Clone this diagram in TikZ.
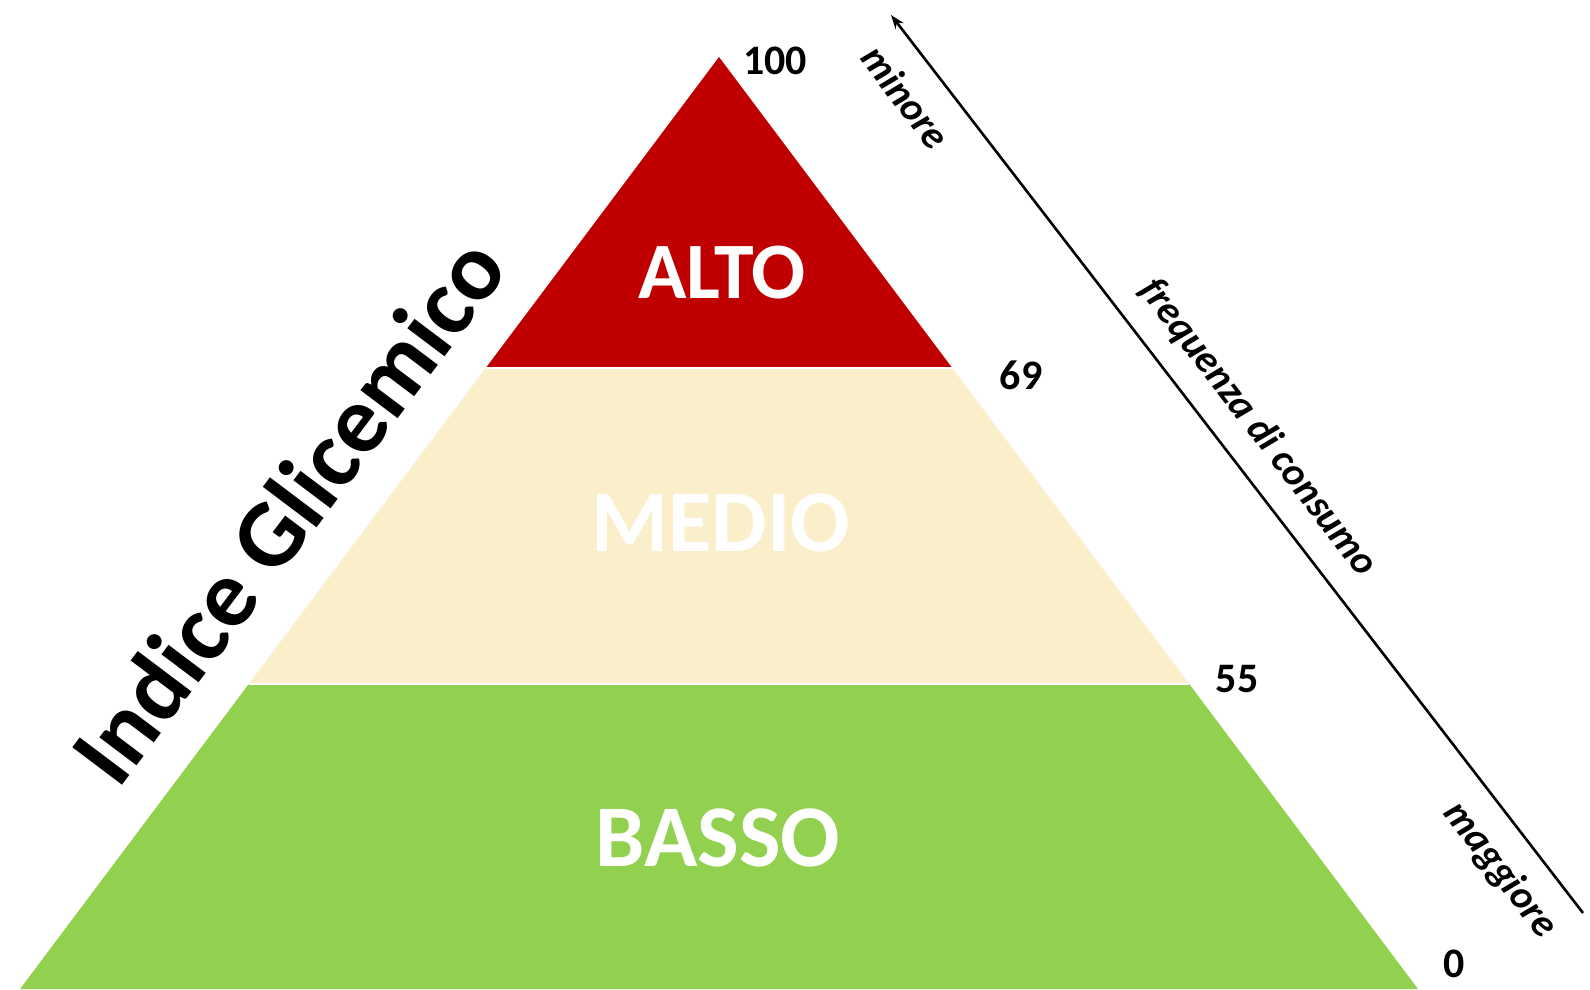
\documentclass[tikz,border=0pt]{standalone}
\usepackage{fontspec}
\setmainfont{Carlito}
\usetikzlibrary{arrows.meta}
\definecolor{altored}{HTML}{C00000}
\definecolor{mediocream}{HTML}{FBEECA}
\definecolor{bassogreen}{HTML}{92D050}
\begin{document}
\begin{tikzpicture}[x=1pt,y=-1pt,
  bandlabel/.style={text=white,font=\bfseries,inner sep=0pt,anchor=center},
  numlabel/.style={font=\fontsize{42}{46}\selectfont\bfseries,inner sep=0pt,anchor=center},
  axislabel/.style={font=\fontsize{40}{44}\selectfont\bfseries\itshape,inner sep=0pt,anchor=center,rotate=-52.4},
  titlelabel/.style={font=\fontsize{96}{100}\selectfont\bfseries,inner sep=0pt,anchor=center,rotate=53},
  separator/.style={white,line width=1.6pt},
]
\fill[white] (0,0) rectangle (1590,989);
\useasboundingbox (0,0) rectangle (1590,989);

% pyramid bands
\fill[altored] (719,57) -- (952.25,368) -- (485.75,368) -- cycle;
\fill[mediocream] (485.75,368) -- (952.25,368) -- (1189.25,684) -- (248.75,684) -- cycle;
\fill[bassogreen] (248.75,684) -- (1189.25,684) -- (1418,989) -- (20,989) -- cycle;
\draw[separator] (485.75,368) -- (952.25,368);
\draw[separator] (248.75,684) -- (1189.25,684);

% band labels
\node[bandlabel,font=\fontsize{80}{84}\selectfont\bfseries] (alto) at (722,273) {ALTO};
\node[bandlabel,font=\fontsize{88}{92}\selectfont\bfseries] (medio) at (721,523) {MEDIO};
\node[bandlabel,font=\fontsize{88}{92}\selectfont\bfseries] (basso) at (718,838) {BASSO};

% title
\node[titlelabel] (title) at (288,510) {Indice Glicemico};

% index values
\node[numlabel] (n100) at (775,61) {100};
\node[numlabel] (n69) at (1021,375) {69};
\node[numlabel] (n55) at (1237,679) {55};
\node[numlabel] (n0) at (1454,964) {0};

% frequency arrow
\coordinate (arrowtail) at (1583,913);
\coordinate (arrowtip) at (891,15);
\draw[line width=2.6pt,-{Stealth[length=14pt,width=10pt]}] (arrowtail) -- (arrowtip);

\node[axislabel] (minore) at (906,97) {minore};
\node[axislabel] (freq) at (1258,428) {frequenza di consumo};
\node[axislabel] (maggiore) at (1500,870) {maggiore};
\end{tikzpicture}
\end{document}
